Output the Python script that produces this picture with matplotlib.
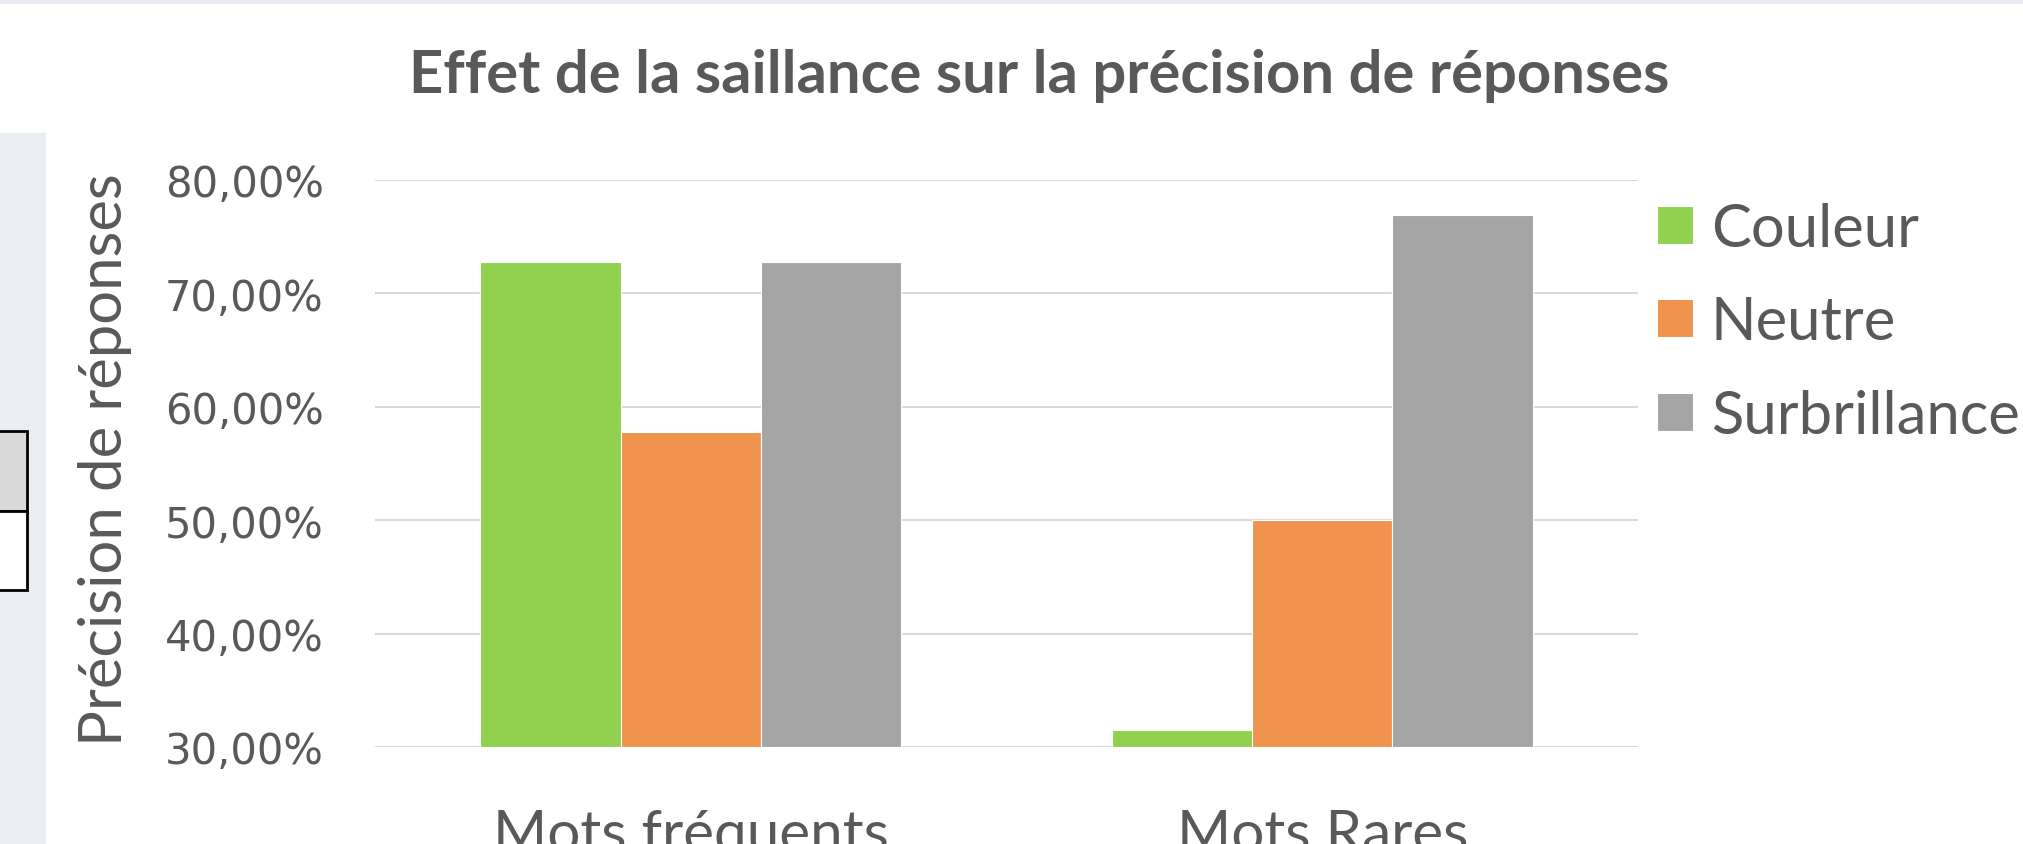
import matplotlib
matplotlib.use("Agg")
import matplotlib.pyplot as plt
import numpy as np
from matplotlib.patches import Rectangle

# data
categories = ["Mots fréquents", "Mots Rares"]
series = ["Couleur", "Neutre", "Surbrillance"]
couleur = [0.7273, 0.315]
neutre = [0.578, 0.50]
surbrillance = [0.7273, 0.769]
yticks = [0.3, 0.4, 0.5, 0.6, 0.7, 0.8]

colors = ["#92d050", "#f0934f", "#a5a5a5"]
txt = "#595959"

W, H = 2023, 845
fig = plt.figure(figsize=(W / 100, H / 100), dpi=100)
fig.patch.set_facecolor("white")

# background bits from the screenshot (spreadsheet edge)
fig.patches.append(Rectangle((0, 1 - 5 / H), 1, 5 / H, transform=fig.transFigure,
                             facecolor="#e9ecf1", edgecolor="none"))
fig.patches.append(Rectangle((0, 0), 46 / W, (H - 134) / H, transform=fig.transFigure,
                             facecolor="#eaedf2", edgecolor="none"))
fig.patches.append(Rectangle((-10 / W, (H - 512) / H), 37 / W, 80 / H, transform=fig.transFigure,
                             facecolor="#d9d9d9", edgecolor="black", linewidth=2))
fig.patches.append(Rectangle((-10 / W, (H - 591) / H), 37 / W, 79 / H, transform=fig.transFigure,
                             facecolor="white", edgecolor="black", linewidth=2))

ax = fig.add_axes([375 / W, (H - 748) / H, (1638 - 375) / W, (748 - 181) / H])
x = np.arange(len(categories))
bw = 0.222
for i, (name, vals) in enumerate(zip(series, [couleur, neutre, surbrillance])):
    ax.bar(x + (i - 1) * bw, np.array(vals) - 0.3, bw, bottom=0.3, color=colors[i],
           edgecolor="white", linewidth=0.8, label=name, zorder=3)

ax.set_xlim(-0.5, 1.5)
ax.set_ylim(0.3, 0.8)
ax.set_yticks(yticks)
ax.set_yticklabels([f"{v * 100:.2f}%".replace(".", ",") for v in yticks],
                   fontfamily="DejaVu Sans", fontsize=30, color=txt)
ax.yaxis.grid(True, color="#d9d9d9", linewidth=1.5, zorder=0)
ax.set_xticks(x)
ax.set_xticklabels(categories, fontfamily="Lato", fontsize=42, color=txt)
ax.tick_params(axis="y", length=0, pad=37)
ax.tick_params(axis="x", length=0, pad=44)
for s in ax.spines.values():
    s.set_visible(False)

fig.text(105 / W, 1 - 460 / H, "Précision de réponses", rotation=90, ha="center", va="center",
         fontfamily="Lato", fontsize=43, color=txt)
fig.text(1039 / W, 1 - 76 / H, "Effet de la saillance sur la précision de réponses",
         ha="center", va="center", fontfamily="Lato", fontweight="bold", fontsize=43, color=txt)

leg = ax.legend(loc="upper left", bbox_to_anchor=(1657 / W, 1 - 203 / H),
                bbox_transform=fig.transFigure, frameon=False, prop={"family": "Lato", "size": 43},
                handlelength=0.6, handleheight=0.6, handletextpad=0.3, labelspacing=0.66,
                borderpad=0, borderaxespad=0)
for t in leg.get_texts():
    t.set_color(txt)

fig.savefig("out.png", dpi=100)
